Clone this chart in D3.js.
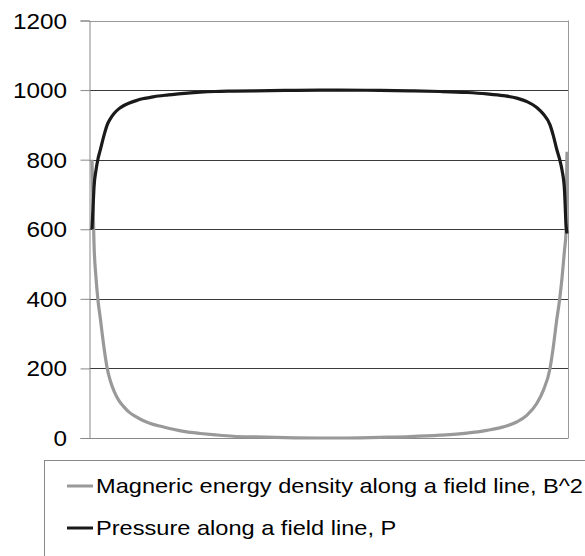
<!DOCTYPE html>
<html>
<head>
<meta charset="utf-8">
<script src="https://cdn.jsdelivr.net/npm/d3@7/dist/d3.min.js"></script>
<style>
  html, body { margin: 0; padding: 0; background: #fff; }
  svg { display: block; }
  text { font-family: "Liberation Sans", Arial, sans-serif; fill: #000; }
</style>
</head>
<body>
<svg id="chart" width="585" height="556"></svg>
<script>
// Position along the field line (% of length)
const positions = [0.52, 0.73, 0.94, 1.36, 1.77, 2.30, 2.65, 3.13, 3.70, 4.38, 5.22, 6.12, 7.10, 8.20, 9.60,
  11.06, 12.73, 14.41, 16.49, 18.58, 21.09, 23.17, 26.30, 30.06, 34.66, 40.92, 48.23, 52.40, 60.75, 67.01,
  73.28, 78.85, 83.03, 86.49, 89.29, 91.38, 93.47, 94.84, 96.24, 96.93, 97.64, 98.23, 98.75, 99.27, 99.58, 99.79];
// Magnetic energy density B^2
const bSquared = [800, 680, 560, 460, 396, 340, 300, 250, 200, 163, 132, 108, 91, 75, 62,
  51, 42, 35, 28, 22, 16, 13, 9, 5, 3, 1, 0, 0, 2, 4,
  8, 14, 22, 32, 46, 65, 99, 137, 200, 262, 339, 396, 460, 540, 590, 823];
// Pressure P
const pressure = [600, 660, 720, 770, 802, 830, 850, 875, 900, 918, 934, 946, 955, 962, 969,
  975, 979, 983, 986, 989, 992, 994, 996, 997, 998, 999, 1000, 1000, 999, 998,
  996, 993, 989, 984, 977, 967, 950, 931, 900, 869, 830, 802, 770, 712, 615, 588];
const yTicks = [0, 200, 400, 600, 800, 1000, 1200];
const seriesNames = ["Magneric energy density along a field line, B^2", "Pressure along a field line, P"];
const seriesColors = ["#999999", "#1a1a1a"];

const svg = d3.select("#chart");
const pLeft = 89.5, pRight = 568, pTop = 20.5, pBottom = 438;
const x = d3.scaleLinear().domain([0, 100]).range([pLeft, pRight]);
const y = d3.scaleLinear().domain([0, 1200]).range([pBottom, pTop]);

// gridlines
svg.append("g").selectAll("line").data(yTicks.filter(d => d > 0 && d < 1200)).join("line")
  .attr("x1", pLeft).attr("x2", pRight)
  .attr("y1", d => Math.round(y(d)) + 0.5).attr("y2", d => Math.round(y(d)) + 0.5)
  .attr("stroke", "#3a3a3a").attr("stroke-width", 1);

// plot border top/right
svg.append("line").attr("x1", pLeft).attr("x2", pRight + 0.5).attr("y1", Math.round(y(1200)) + 0.5).attr("y2", Math.round(y(1200)) + 0.5)
  .attr("stroke", "#999");
svg.append("line").attr("x1", pRight + 0.5).attr("x2", pRight + 0.5).attr("y1", y(1200)).attr("y2", pBottom)
  .attr("stroke", "#999");

// y axis
const yAxis = svg.append("g").attr("transform", `translate(${pLeft},0)`)
  .call(d3.axisLeft(y).tickValues(yTicks).tickSize(9).tickFormat(() => ""));
yAxis.select(".domain").attr("stroke", "#888");
yAxis.selectAll(".tick line").attr("stroke", "#888");

// tick labels (horizontally stretched like the original)
svg.append("g").selectAll("text").data(yTicks).join("text")
  .attr("transform", d => `translate(67,${y(d) + 8}) scale(1.08,1)`)
  .attr("text-anchor", "end").attr("font-size", 22.5)
  .text(d => d);

// x axis
svg.append("line").attr("x1", pLeft).attr("x2", pRight + 0.5).attr("y1", Math.round(pBottom) + 0.5).attr("y2", Math.round(pBottom) + 0.5)
  .attr("stroke", "#888");

// lines
const line = d3.line().x(d => x(d[0])).y(d => y(d[1])).curve(d3.curveMonotoneX);
const series = [bSquared, pressure];
series.forEach((vals, i) => {
  svg.append("path")
    .datum(positions.map((p, k) => [p, vals[k]]))
    .attr("fill", "none").attr("stroke", seriesColors[i]).attr("stroke-width", 3.2)
    .attr("stroke-linejoin", "round")
    .attr("d", line);
});

// legend
svg.append("rect").attr("x", 44.5).attr("y", 460.5).attr("width", 600).attr("height", 120)
  .attr("fill", "#fff").attr("stroke", "#888");
const rowY = [486, 528];
seriesNames.forEach((name, i) => {
  svg.append("line").attr("x1", 67).attr("x2", 93).attr("y1", rowY[i]).attr("y2", rowY[i])
    .attr("stroke", seriesColors[i]).attr("stroke-width", 3);
  svg.append("text")
    .attr("transform", `translate(96,${rowY[i] + 7}) scale(1.18,1)`)
    .attr("font-size", 20).text(name);
});
</script>
</body>
</html>
